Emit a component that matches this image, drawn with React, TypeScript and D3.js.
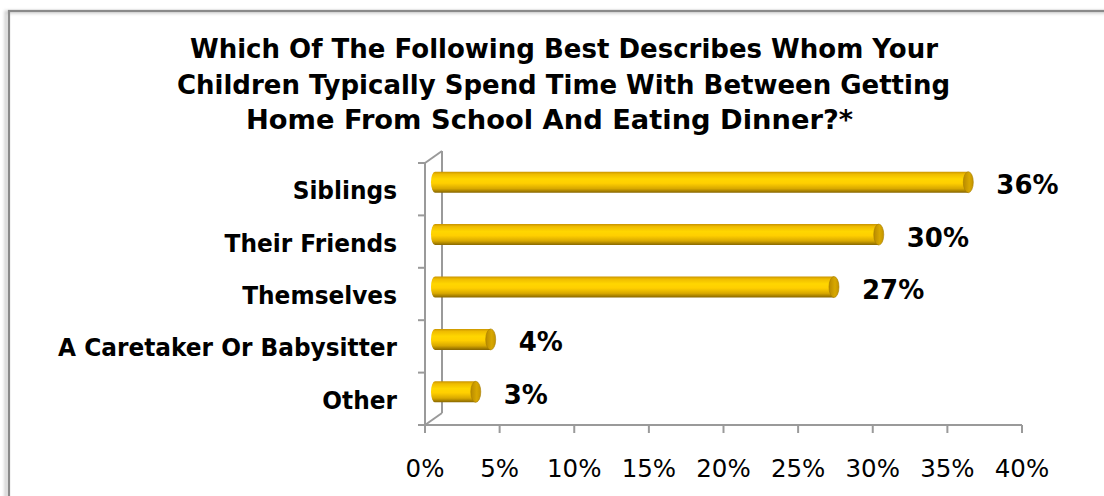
import React from "react";
import * as d3 from "d3";

const categories = ["Siblings", "Their Friends", "Themselves", "A Caretaker Or Babysitter", "Other"];
const values = [0.36, 0.30, 0.27, 0.04, 0.03];
const valueLabels = ["36%", "30%", "27%", "4%", "3%"];
const ticks = [0, 0.05, 0.1, 0.15, 0.2, 0.25, 0.3, 0.35, 0.4];
const titleLines = [
  "Which Of The Following Best Describes Whom Your",
  "Children Typically Spend Time With Between Getting",
  "Home From School And Eating Dinner?*",
];

const W = 1104;
const H = 496;
const FONT = "Tahoma, 'DejaVu Sans', Verdana, sans-serif";

export default function App() {
  const x = d3.scaleLinear().domain([0, 0.4]).range([425, 1022]);
  const y = d3.scaleBand<string>().domain(categories).range([163, 425]);
  const depthX = 17;
  const depthY = -12;
  const barDx = 6;
  const barDy = -7;
  const barH = 21;
  const capRx = 5;
  const axisColor = "#9a9a9a";
  const fmt = d3.format(".0%");
  const bandEdges = categories.map((c) => y(c) as number).concat([425]);
  const titleGeom = [
    { x0: 190, x1: 938, base: 58 },
    { x0: 177, x1: 950, base: 93.5 },
    { x0: 246, x1: 853, base: 129 },
  ];

  return (
    <svg width={W} height={H} style={{ display: "block", position: "absolute", left: 0, top: 0 }}>
      <defs>
        <linearGradient id="barGrad" x1="0" y1="0" x2="0" y2="1">
          <stop offset="0%" stopColor="#c99400" />
          <stop offset="12%" stopColor="#efbc00" />
          <stop offset="35%" stopColor="#ffd600" />
          <stop offset="55%" stopColor="#ffcf00" />
          <stop offset="80%" stopColor="#d9a900" />
          <stop offset="100%" stopColor="#876600" />
        </linearGradient>
        <linearGradient id="capGrad" x1="0" y1="0" x2="1" y2="0">
          <stop offset="0%" stopColor="#b88a00" />
          <stop offset="60%" stopColor="#d8a800" />
          <stop offset="100%" stopColor="#c49400" />
        </linearGradient>
        <filter id="shadow" x="-5%" y="-5%" width="110%" height="110%">
          <feGaussianBlur stdDeviation="1.5" />
        </filter>
      </defs>
      <rect x={0} y={0} width={W} height={H} fill="#ffffff" />
      {/* outer border */}
      <rect x={6} y={12} width={W + 20} height={H + 20} fill="none" stroke="#cccccc" strokeWidth={3} filter="url(#shadow)" />
      <rect x={9} y={11} width={W + 20} height={H + 20} fill="none" stroke="#8a8a8a" strokeWidth={2.2} />

      {/* title */}
      {titleLines.map((t, i) => (
        <text
          key={t}
          x={titleGeom[i].x0}
          y={titleGeom[i].base}
          textLength={titleGeom[i].x1 - titleGeom[i].x0}
          lengthAdjust="spacingAndGlyphs"
          fontFamily={FONT}
          fontWeight="bold"
          fontSize={26.5}
          fill="#000"
        >
          {t}
        </text>
      ))}

      {/* walls / axes */}
      <g stroke={axisColor} strokeWidth={2} fill="none">
        <line x1={x(0) + depthX} y1={163 + depthY} x2={x(0) + depthX} y2={425 + depthY} />
        <line x1={x(0)} y1={163} x2={x(0) + depthX} y2={163 + depthY} />
        <line x1={x(0)} y1={425} x2={x(0) + depthX} y2={425 + depthY} />
        <line x1={x(0)} y1={163} x2={x(0)} y2={425} />
        {bandEdges.map((e, i) => (
          <line key={"yt" + i} x1={x(0) - 7} y1={e} x2={x(0)} y2={e} />
        ))}
        <line x1={x(0)} y1={425} x2={x(0.4)} y2={425} />
        {ticks.map((t) => (
          <line key={"xt" + t} x1={x(t)} y1={425} x2={x(t)} y2={433} />
        ))}
      </g>

      {/* bars */}
      {categories.map((c, i) => {
        const cy = (y(c) as number) + y.bandwidth() / 2 + barDy;
        const xs = x(0) + barDx;
        const xe = x(values[i]) + barDx;
        const r = barH / 2;
        const lrx = 4;
        const body = `M${xs + lrx},${cy - r} L${xe},${cy - r} L${xe},${cy + r} L${xs + lrx},${cy + r} A${lrx},${r} 0 0 1 ${xs + lrx},${cy - r} Z`;
        return (
          <g key={c}>
            <path d={body} fill="url(#barGrad)" />
            <ellipse cx={xe} cy={cy} rx={capRx} ry={r} fill="url(#capGrad)" stroke="#a87e00" strokeWidth={0.6} />
            <text
              x={xe + capRx + 23}
              y={cy + 12}
              fontFamily={FONT}
              fontWeight="bold"
              fontSize={26}
              fill="#000"
            >
              {valueLabels[i]}
            </text>
          </g>
        );
      })}

      {/* category labels */}
      {categories.map((c) => {
        const cy = (y(c) as number) + y.bandwidth() / 2;
        return (
          <g key={"l" + c} transform={`translate(397,${cy + 10}) scale(0.95,1)`}>
            <text x={0} y={0} textAnchor="end" fontFamily={FONT} fontWeight="bold" fontSize={24.5} fill="#000">
              {c}
            </text>
          </g>
        );
      })}

      {/* x tick labels */}
      {ticks.map((t) => (
        <text
          key={"xl" + t}
          x={x(t)}
          y={477}
          textAnchor="middle"
          fontFamily={FONT}
          fontSize={24.5}
          fill="#000"
        >
          {fmt(t)}
        </text>
      ))}
    </svg>
  );
}
